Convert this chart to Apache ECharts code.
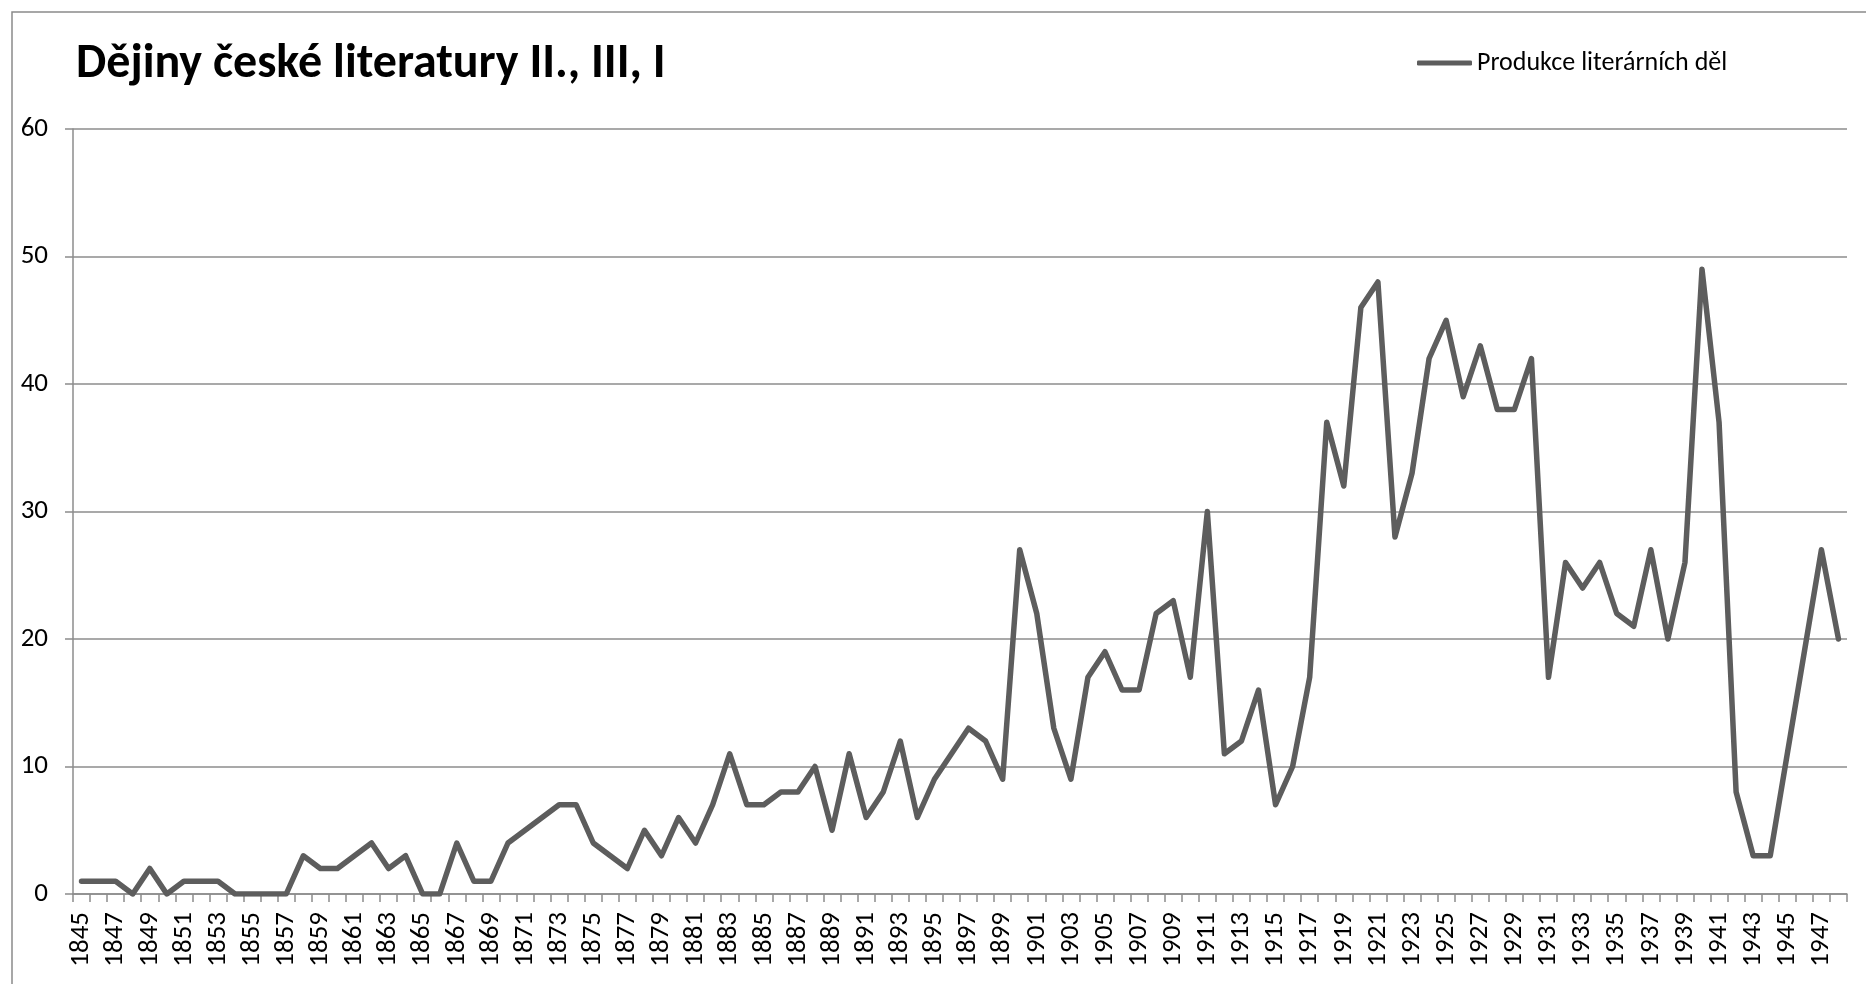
<!DOCTYPE html>
<html>
<head>
<meta charset="utf-8">
<title>Dějiny české literatury</title>
<script src="https://cdn.jsdelivr.net/npm/echarts@6.0.0/dist/echarts.min.js"></script>
<style>
  html, body { margin: 0; padding: 0; background: #fff; }
  #main { width: 1866px; height: 984px; }
</style>
</head>
<body>
<div id="main"></div>
<script>
// roky (kategorie osy x)
var years = [
  '1845','1846','1847','1848','1849','1850','1851','1852','1853','1854',
  '1855','1856','1857','1858','1859','1860','1861','1862','1863','1864',
  '1865','1866','1867','1868','1869','1870','1871','1872','1873','1874',
  '1875','1876','1877','1878','1879','1880','1881','1882','1883','1884',
  '1885','1886','1887','1888','1889','1890','1891','1892','1893','1894',
  '1895','1896','1897','1898','1899','1900','1901','1902','1903','1904',
  '1905','1906','1907','1908','1909','1910','1911','1912','1913','1914',
  '1915','1916','1917','1918','1919','1920','1921','1922','1923','1924',
  '1925','1926','1927','1928','1929','1930','1931','1932','1933','1934',
  '1935','1936','1937','1938','1939','1940','1941','1942','1943','1944',
  '1945','1946','1947','1948'
];

// produkce literárních děl po obdobích
var works1845 = [1, 1, 1, 0, 2, 0, 1, 1, 1, 0, 0, 0, 0, 3, 2, 2, 3, 4, 2, 3, 0, 0, 4, 1, 1];
var works1870 = [4, 5, 6, 7, 7, 4, 3, 2, 5, 3, 6, 4, 7, 11, 7, 7, 8, 8, 10, 5, 11, 6, 8, 12, 6, 9, 11, 13, 12, 9];
var works1900 = [27, 22, 13, 9, 17, 19, 16, 16, 22, 23, 17, 30, 11, 12, 16, 7, 10, 17, 37, 32, 46, 48, 28, 33];
var works1924 = [42, 45, 39, 43, 38, 38, 42, 17, 26, 24, 26, 22, 21, 27, 20, 26, 49, 37, 8, 3, 3, 11, 19, 27, 20];

var works = works1845.concat(works1870, works1900, works1924);

var FONT = 'Carlito, Lato, sans-serif';
var gridColor = '#8c8c8c';
var lineColor = '#5d5d5d';

var chart = echarts.init(document.getElementById('main'));

var option = {
  animation: false,
  backgroundColor: '#fff',
  graphic: [
    { // rámeček grafu
      type: 'rect',
      shape: { x: 12, y: 12, width: 1900, height: 1000 },
      style: { fill: 'none', stroke: '#8a8a8a', lineWidth: 1.5 },
      silent: true
    }
  ],
  title: {
    text: 'Dějiny české literatury II., III, I',
    left: 71,
    top: 36,
    textStyle: { fontFamily: FONT, fontSize: 48, fontWeight: 'bold', color: '#000' }
  },
  legend: {
    left: 1412,
    top: 45,
    icon: 'roundRect',
    itemWidth: 55,
    itemHeight: 5,
    itemStyle: { color: lineColor },
    textStyle: { fontFamily: FONT, fontSize: 26, color: '#000' },
    data: ['Produkce literárních děl']
  },
  grid: {
    left: 73,
    right: 19,
    top: 129,
    bottom: 90,
    containLabel: false
  },
  xAxis: {
    type: 'category',
    data: years,
    boundaryGap: true,
    axisLine: { lineStyle: { color: gridColor, width: 1.5 } },
    axisTick: { show: true, interval: 0, length: 8, lineStyle: { color: gridColor, width: 1.5 } },
    axisLabel: {
      interval: 1,
      rotate: 90,
      margin: 18,
      fontFamily: FONT,
      fontSize: 27,
      color: '#000'
    },
    splitLine: { show: false }
  },
  yAxis: {
    type: 'value',
    min: 0,
    max: 60,
    interval: 10,
    axisLine: { show: true, lineStyle: { color: gridColor, width: 1.5 } },
    axisTick: { show: true, length: 8, lineStyle: { color: gridColor, width: 1.5 } },
    axisLabel: { margin: 25, fontFamily: FONT, fontSize: 27, color: '#000' },
    splitLine: { show: true, lineStyle: { color: gridColor, width: 1.5 } }
  },
  series: [
    {
      name: 'Produkce literárních děl',
      type: 'line',
      data: works,
      symbol: 'none',
      lineStyle: { color: lineColor, width: 5.5, cap: 'round', join: 'round' },
      itemStyle: { color: lineColor }
    }
  ]
};

chart.setOption(option);
</script>
</body>
</html>
